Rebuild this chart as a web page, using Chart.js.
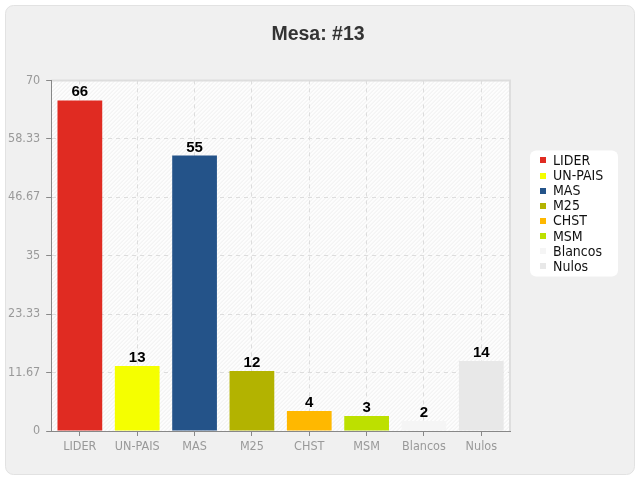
<!DOCTYPE html>
<html>
<head>
<meta charset="utf-8">
<script src="https://cdn.jsdelivr.net/npm/chart.js"></script>
<style>
html, body { margin: 0; background: #fff; }
#wrap { width: 640px; height: 480px; }
</style>
</head>
<body>
<div id="wrap"><canvas id="myChart"></canvas></div>
<script>
const categories = ['LIDER', 'UN-PAIS', 'MAS', 'M25', 'CHST', 'MSM', 'Blancos', 'Nulos'];
const votes = [66, 13, 55, 12, 4, 3, 2, 14];
const barColors = ['#e02b22', '#f5ff00', '#245389', '#b3b300', '#ffb800', '#bde000', '#f5f5f5', '#e8e8e8'];
const yTicks = [0, 11.67, 23.33, 35, 46.67, 58.33, 70];

const tickFont = "'DejaVu Sans Condensed', 'DejaVu Sans', sans-serif";
const boldFont = "'Liberation Sans', Arial, sans-serif";

// frame and hatched plot area
const background = {
    id: 'background',
    beforeDraw: (chart) => {
        const {ctx, chartArea: a, width, height} = chart;
        ctx.save();
        ctx.fillStyle = '#ffffff';
        ctx.fillRect(0, 0, width, height);
        ctx.beginPath();
        ctx.roundRect(5.5, 5.5, width - 11, height - 11, 8);
        ctx.fillStyle = '#f0f0f0';
        ctx.fill();
        ctx.strokeStyle = '#e2e2e2';
        ctx.stroke();

        const w = a.right - a.left, h = a.bottom - a.top;
        ctx.fillStyle = '#fdfdfd';
        ctx.fillRect(a.left, a.top, w, h);
        ctx.save();
        ctx.beginPath();
        ctx.rect(a.left, a.top, w, h);
        ctx.clip();
        ctx.strokeStyle = '#eeeeee';
        ctx.lineWidth = 1;
        ctx.beginPath();
        for (let x = a.left - h; x < a.right; x += 4) {
            ctx.moveTo(x, a.bottom);
            ctx.lineTo(x + h, a.top);
        }
        ctx.stroke();
        ctx.restore();
        ctx.strokeStyle = '#dedede';
        ctx.lineWidth = 2;
        ctx.beginPath();
        ctx.moveTo(a.left, a.top);
        ctx.lineTo(a.right, a.top);
        ctx.lineTo(a.right, a.bottom);
        ctx.stroke();
        ctx.restore();
    }
};

// value above each bar
const barValues = {
    id: 'barValues',
    afterDatasetsDraw: (chart) => {
        const {ctx} = chart;
        const meta = chart.getDatasetMeta(0);
        ctx.save();
        ctx.font = 'bold 15px ' + boldFont;
        ctx.fillStyle = '#000000';
        ctx.textAlign = 'center';
        ctx.textBaseline = 'alphabetic';
        meta.data.forEach((bar, i) => {
            ctx.fillText(String(votes[i]), bar.x, bar.y - 4);
        });
        ctx.restore();
    }
};

// legend box at the right of the plot
const sideLegend = {
    id: 'sideLegend',
    afterDraw: (chart) => {
        const {ctx, chartArea: a} = chart;
        const x0 = a.right + 20, y0 = a.top + 70;
        const rowH = 15.1;
        ctx.save();
        ctx.beginPath();
        ctx.roundRect(x0, y0, 88, 126, 6);
        ctx.fillStyle = '#ffffff';
        ctx.fill();
        ctx.font = '14px ' + tickFont;
        ctx.textBaseline = 'middle';
        ctx.textAlign = 'left';
        categories.forEach((c, i) => {
            const yc = y0 + 10 + rowH * i;
            ctx.fillStyle = barColors[i];
            ctx.fillRect(x0 + 10, Math.round(yc - 3), 6, 6);
            ctx.fillStyle = '#111111';
            ctx.fillText(c, x0 + 23, yc + 1);
        });
        ctx.restore();
    }
};

new Chart(document.getElementById('myChart'), {
    type: 'bar',
    data: {
        labels: categories,
        datasets: [{
            label: 'Votos',
            data: votes,
            backgroundColor: barColors,
            borderWidth: 0,
            barPercentage: 0.78,
            categoryPercentage: 1.0,
        }]
    },
    options: {
        responsive: true,
        maintainAspectRatio: false,
        animation: false,
        layout: {
            padding: {left: 2, right: 6, top: 9, bottom: 23}
        },
        scales: {
            x: {
                grid: {
                    color: '#dddddd',
                    offset: false,
                    tickLength: 5,
                    tickColor: '#888888',
                },
                border: {color: '#888888', dash: [4, 4]},
                ticks: {
                    color: '#999999',
                    padding: 3,
                    font: {family: tickFont, size: 12.5},
                },
            },
            y: {
                min: 0,
                max: 70,
                afterBuildTicks: (scale) => {
                    scale.ticks = yTicks.map(v => ({value: v}));
                },
                grid: {
                    color: '#dddddd',
                    tickLength: 5,
                    tickColor: '#888888',
                },
                border: {color: '#888888', dash: [4, 4]},
                ticks: {
                    color: '#999999',
                    padding: 6,
                    font: {family: tickFont, size: 12.5},
                    callback: (v) => String(v),
                },
            },
            // empty axis on the right, only keeps room for the legend box
            side: {
                position: 'right',
                display: true,
                grid: {display: false},
                border: {display: false},
                ticks: {display: false},
                afterFit: (scale) => {
                    scale.width = 124;
                },
            },
        },
        plugins: {
            title: {
                display: true,
                text: 'Mesa: #13',
                color: '#333333',
                font: {family: boldFont, size: 19.5, weight: 'bold'},
                padding: {top: 14, bottom: 34},
            },
            tooltip: {enabled: false},
            legend: {display: false},
        },
    },
    plugins: [background, barValues, sideLegend],
});
</script>
</body>
</html>
